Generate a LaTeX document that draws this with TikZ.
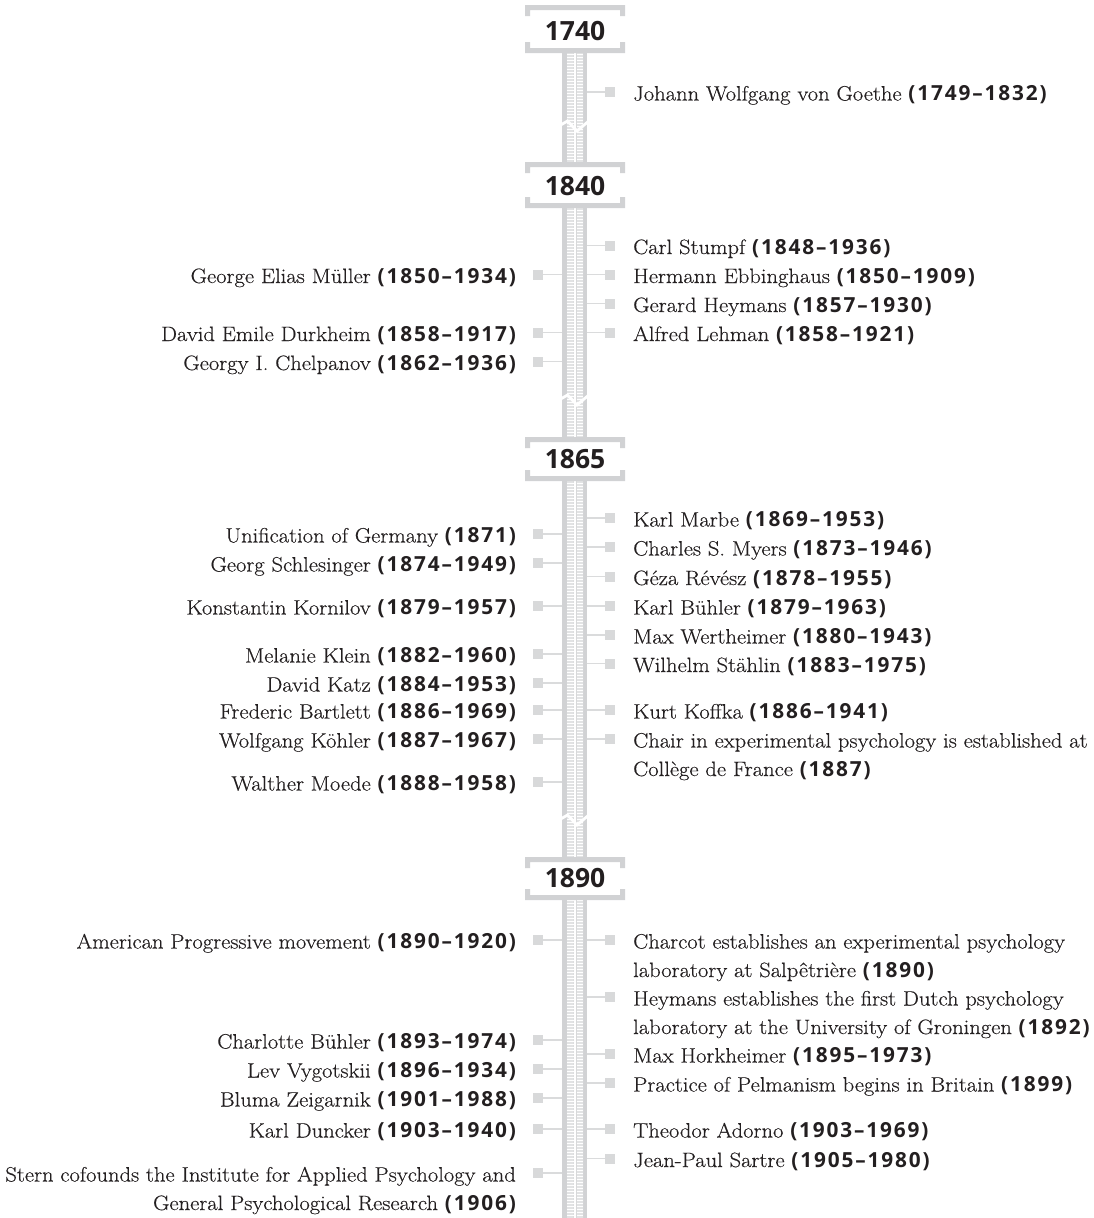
\documentclass[tikz,border=0pt]{standalone}
\usepackage{fontspec}
\setmainfont[FakeStretch=1.085, FakeBold=0.4]{Latin Modern Roman}
\newfontfamily\datefont[LetterSpace=9]{Open Sans}
\newfontfamily\yearfont{Open Sans}

\definecolor{ink}{HTML}{231F20}
\definecolor{spinegray}{HTML}{D1D2D4}
\definecolor{stripgray}{HTML}{E2E3E4}
\definecolor{sqgray}{HTML}{D8D9DA}
\definecolor{linegray}{HTML}{DADBDC}

% bold date range after a name
\newcommand\yr[1]{{\datefont\bfseries #1}}
% two-line entries, aligned on the first baseline
\newcommand\twol[2]{\begin{tabular}[t]{@{}l@{}}#1\\#2\end{tabular}}
\newcommand\twor[2]{\begin{tabular}[t]{@{}r@{}}#1\\#2\end{tabular}}

% entry to the right of the spine: name, y, text
\newcommand\rightitem[3]{%
  \node[sq] (#1-sq) at (610,#2) {};
  \coordinate (#1-sp) at (587,#2);
  \draw[conn] (#1-sp) -- (#1-sq);
  \node[rtxt] (#1) at (633,#2+8.5) {#3};}
% entry to the left of the spine: name, y, text
\newcommand\leftitem[3]{%
  \node[sq] (#1-sq) at (538,#2) {};
  \coordinate (#1-sp) at (562,#2);
  \draw[conn] (#1-sp) -- (#1-sq);
  \node[ltxt] (#1) at (516,#2+8.5) {#3};}
% bracketed year box: name, top, bottom, label centre, label
\newcommand\yearbox[5]{%
  \fill[white] (525,#2) rectangle (625,#3);
  \fill[spinegray] (525,#2) rectangle (625,#2+5)
                   (525,#2) rectangle (530,#2+11)
                   (620,#2) rectangle (625,#2+11)
                   (525,#3-5) rectangle (625,#3)
                   (525,#3-11) rectangle (530,#3)
                   (620,#3-11) rectangle (625,#3);
  \node[yearlbl] (#1) at (575,#4) {#5};}
% break in the spine
\newcommand\spinebreak[1]{%
  \draw[white, line width=2.8, line join=miter]
    (559,#1+1) -- (567.5,#1-4) -- (577,#1+6) -- (590,#1-5);}

\begin{document}
\begin{tikzpicture}[x=1pt, y=-1pt,
  sq/.style={fill=sqgray, draw=none, minimum width=10.5pt, minimum height=10pt, inner sep=0pt},
  conn/.style={draw=linegray, line width=1.8pt},
  txt/.style={inner sep=0pt, text=ink, font=\fontsize{20.8}{28.5}\selectfont},
  rtxt/.style={txt, anchor=base west},
  ltxt/.style={txt, anchor=base east},
  yearlbl/.style={inner sep=0pt, text=ink, font=\yearfont\bfseries\fontsize{26.5}{30}\selectfont}]
\useasboundingbox (0,0) rectangle (1093,1218);

% spine with its two hatched strips and centre line
\fill[spinegray] (562,10) rectangle (587,1218);
\fill[stripgray] (567,10) rectangle (573.5,1218)
                 (576.5,10) rectangle (583,1218);
\draw[white, line width=0.9pt]
  \foreach \y in {12,15,...,1218} {(567,\y) -- (573.5,\y) (576.5,\y) -- (583,\y)};
\fill[white] (574.2,10) rectangle (575.8,1218);

\spinebreak{125}
\spinebreak{399}
\spinebreak{819}

\yearbox{y1740}{5}{53}{31}{1740}
\yearbox{y1840}{162}{208}{186}{1840}
\yearbox{y1865}{437}{481}{459}{1865}
\yearbox{y1890}{857}{900}{878}{1890}

% 1740
\rightitem{goethe}{92}{Johann Wolfgang von Goethe \yr{(1749–1832)}}

% 1840
\rightitem{stumpf}{245.5}{Carl Stumpf \yr{(1848–1936)}}
\rightitem{ebbinghaus}{274.5}{Hermann Ebbinghaus \yr{(1850–1909)}}
\rightitem{gheymans}{303.5}{Gerard Heymans \yr{(1857–1930)}}
\rightitem{lehman}{332.5}{Alfred Lehman \yr{(1858–1921)}}
\leftitem{mueller}{274.5}{George Elias Müller \yr{(1850–1934)}}
\leftitem{durkheim}{332.5}{David Emile Durkheim \yr{(1858–1917)}}
\leftitem{chelpanov}{361.5}{Georgy I. Chelpanov \yr{(1862–1936)}}

% 1865
\rightitem{marbe}{518}{Karl Marbe \yr{(1869–1953)}}
\rightitem{myers}{547}{Charles S. Myers \yr{(1873–1946)}}
\rightitem{revesz}{576.5}{Géza Révész \yr{(1878–1955)}}
\rightitem{kbuehler}{606}{Karl Bühler \yr{(1879–1963)}}
\rightitem{wertheimer}{635}{Max Wertheimer \yr{(1880–1943)}}
\rightitem{staehlin}{663.5}{Wilhelm Stählin \yr{(1883–1975)}}
\rightitem{koffka}{710}{Kurt Koffka \yr{(1886–1941)}}
\rightitem{chair}{739}{\twol{Chair in experimental psychology is established at}{Collège de France \yr{(1887)}}}
\leftitem{unification}{534}{Unification of Germany \yr{(1871)}}
\leftitem{schlesinger}{563}{Georg Schlesinger \yr{(1874–1949)}}
\leftitem{kornilov}{606}{Konstantin Kornilov \yr{(1879–1957)}}
\leftitem{klein}{654}{Melanie Klein \yr{(1882–1960)}}
\leftitem{katz}{683}{David Katz \yr{(1884–1953)}}
\leftitem{bartlett}{710}{Frederic Bartlett \yr{(1886–1969)}}
\leftitem{koehler}{739}{Wolfgang Köhler \yr{(1887–1967)}}
\leftitem{moede}{782}{Walther Moede \yr{(1888–1958)}}

% 1890
\rightitem{charcot}{940}{\twol{Charcot establishes an experimental psychology}{laboratory at Salpêtrière \yr{(1890)}}}
\rightitem{hlab}{997}{\twol{Heymans establishes the first Dutch psychology}{laboratory at the University of Groningen \yr{(1892)}}}
\rightitem{horkheimer}{1054}{Max Horkheimer \yr{(1895–1973)}}
\rightitem{pelmanism}{1083}{Practice of Pelmanism begins in Britain \yr{(1899)}}
\rightitem{adorno}{1129}{Theodor Adorno \yr{(1903–1969)}}
\rightitem{sartre}{1158.5}{Jean-Paul Sartre \yr{(1905–1980)}}
\leftitem{progressive}{940}{American Progressive movement \yr{(1890–1920)}}
\leftitem{cbuehler}{1040}{Charlotte Bühler \yr{(1893–1974)}}
\leftitem{vygotskii}{1069}{Lev Vygotskii \yr{(1896–1934)}}
\leftitem{zeigarnik}{1098}{Bluma Zeigarnik \yr{(1901–1988)}}
\leftitem{duncker}{1129}{Karl Duncker \yr{(1903–1940)}}
\leftitem{stern}{1173}{\twor{Stern cofounds the Institute for Applied Psychology and}{General Psychological Research \yr{(1906)}}}
\end{tikzpicture}
\end{document}
